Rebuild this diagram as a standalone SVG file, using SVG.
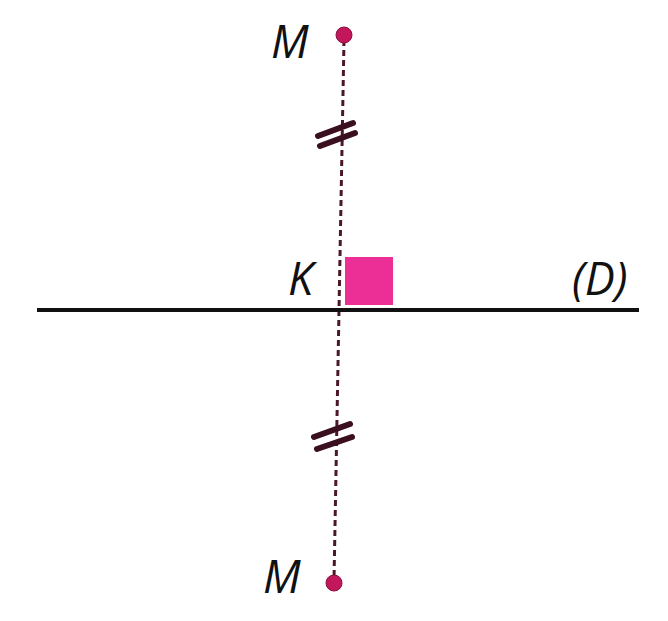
<svg xmlns="http://www.w3.org/2000/svg" width="668" height="621" viewBox="0 0 668 621">
<style>
.lbl{font-family:"Open Sans","Liberation Sans",sans-serif;font-style:italic;font-size:45px;fill:#111}
.dash{stroke:#4a1828;stroke-width:3;stroke-dasharray:6 4;fill:none}
.tick{stroke:#3a0f20;stroke-width:6;stroke-linecap:round}
.pt{fill:#c2185b;stroke:#8a1040;stroke-width:1}
</style>
<rect width="668" height="621" fill="#fff"/>
<g id="connectors">
<line class="dash" x1="344" y1="40" x2="334" y2="580"/>
<line x1="37" y1="310" x2="639" y2="310" stroke="#111" stroke-width="4"/>
<g id="tick1"><line class="tick" x1="318" y1="136" x2="353" y2="123"/><line class="tick" x1="320" y1="146" x2="355" y2="133"/></g>
<g id="tick2"><line class="tick" x1="314" y1="437" x2="350" y2="424"/><line class="tick" x1="317" y1="449" x2="352" y2="437"/></g>
</g>
<g id="rightangle"><rect x="345" y="257" width="48" height="48" fill="#ec2f97"/></g>
<g id="M1"><circle class="pt" cx="344" cy="35" r="8"/><text class="lbl" x="271" y="58">M</text></g>
<g id="M2"><circle class="pt" cx="334" cy="583" r="8"/><text class="lbl" x="263" y="593">M</text></g>
<g id="K"><text class="lbl" x="288" y="295">K</text></g>
<g id="D"><text class="lbl" x="572" y="295">(D)</text></g>
</svg>
